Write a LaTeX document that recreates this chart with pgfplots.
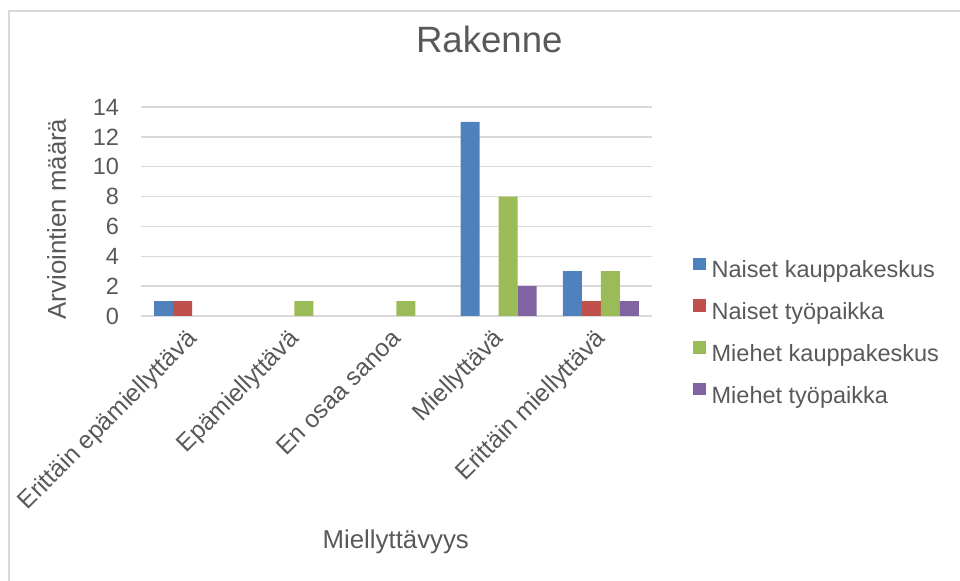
\documentclass[border=0pt]{standalone}
\usepackage{fontspec}
\setmainfont{Liberation Sans}
\usepackage{pgfplots}
\pgfplotsset{compat=1.18}
\definecolor{cBlue}{HTML}{4F81BD}
\definecolor{cRed}{HTML}{C0504D}
\definecolor{cGreen}{HTML}{9BBB59}
\definecolor{cPurple}{HTML}{8064A2}
\definecolor{txt}{HTML}{595959}
\definecolor{gridc}{HTML}{D9D9D9}
\pgfplotsset{sq legend/.style={legend image code/.code={\fill[##1,/tikz/.cd,draw=none] (0pt,0.8pt) rectangle (6.35pt,7.15pt);}}}
\begin{document}
\begin{tikzpicture}
\useasboundingbox (0,0) rectangle (480pt,290.5pt);
\draw[gridc, line width=0.75pt] (4.5pt,0) -- (4.5pt,285pt) -- (480pt,285pt);
\begin{axis}[
 at={(70.5pt,132.5pt)}, anchor=south west,
 scale only axis, width=255.5pt, height=104.5pt,
 ybar=0pt, bar width=9.5pt,
 sq legend,
 every axis plot/.append style={sq legend},
 xmin=-0.5, xmax=4.5, ymin=0, ymax=14,
 xtick={0,1,2,3,4},
 xticklabels={Erittäin epämiellyttävä, Epämiellyttävä, En osaa sanoa, Miellyttävä, Erittäin miellyttävä},
 ytick={0,2,...,14},
 major tick length=0pt,
 axis line style={draw=none},
 ymajorgrids, grid style={color=gridc, line width=0.75pt},
 tick label style={font=\fontsize{11.75}{14}\selectfont, color=txt},
 /pgf/number format/assume math mode=true,
 yticklabel style={anchor=east, inner sep=0pt, xshift=-10.85pt},
 xticklabel style={xshift=3pt, yshift=-12pt, rotate=45, anchor=base east, inner sep=0pt, font=\fontsize{12.3}{14}\selectfont},
 title={Rakenne},
 title style={at={(axis description cs:0.6816,1.2010)}, anchor=base, font=\fontsize{18.3}{22}\selectfont, color=txt},
 xlabel={Miellyttävyys},
 xlabel style={at={(axis description cs:0.4986,-1.1115)}, anchor=base, font=\fontsize{12.9}{15}\selectfont, color=txt},
 ylabel={Arviointien määrä},
 ylabel style={at={(axis description cs:-0.1468,0.4641)}, anchor=base, font=\fontsize{12.9}{15}\selectfont, color=txt},
 legend cell align=left,
 legend style={at={(axis description cs:1.0802,0.279)}, anchor=north west, draw=none, fill=none,
   inner sep=0pt, outer sep=0pt, /tikz/row sep=8.2pt, /tikz/column sep=3pt,
   font=\fontsize{11.75}{14}\selectfont, text=txt,
   nodes={inner sep=0pt, text height=8.5pt, text depth=2.5pt}},
]
% zero counts are left out: Excel draws nothing for them
\addplot[fill=cBlue, draw=none] coordinates {(0,1) (3,13) (4,3)};
\addplot[fill=cRed, draw=none] coordinates {(0,1) (4,1)};
\addplot[fill=cGreen, draw=none] coordinates {(1,1) (2,1) (3,8) (4,3)};
\addplot[fill=cPurple, draw=none] coordinates {(3,2) (4,1)};
\legend{Naiset kauppakeskus, Naiset työpaikka, Miehet kauppakeskus, Miehet työpaikka}
\end{axis}
\end{tikzpicture}
\end{document}
